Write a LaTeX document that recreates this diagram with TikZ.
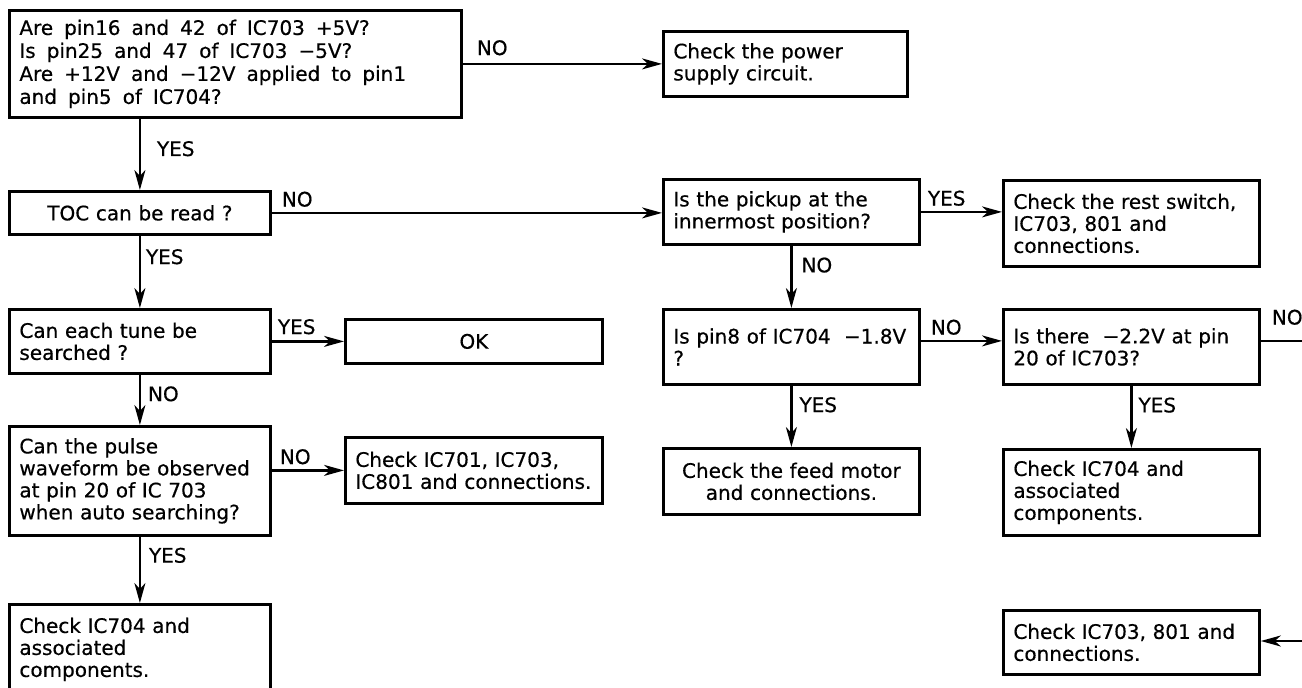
\documentclass[tikz,border=0pt]{standalone}
\usepackage{fontspec}
\setmainfont{DejaVu Sans}
\newfontfamily\chartfont[FakeBold=0.5]{DejaVu Sans}
\usetikzlibrary{arrows.meta}
\newcommand\widespaces{\spaceskip=0.55em plus 0.1em\relax}
\begin{document}
\begin{tikzpicture}[x=1pt, y=-1pt,
	every node/.style={font=\chartfont\fontsize{20}{22}\selectfont},
	box/.style={draw, line width=2.8pt, anchor=north west, inner xsep=10pt, inner ysep=0pt, align=left},
	lbl/.style={inner sep=0pt},
	>={Stealth[length=20pt, width=11pt, inset=6pt]}]
			\clip (0,0) rectangle (1302,688);
			
			% Left column
			\node[box, text width=432pt, minimum height=107pt, font=\chartfont\fontsize{20}{23}\selectfont] (volt) at (8,9) {\widespaces Are pin16 and 42 of IC703 +5V?\\Is pin25 and 47 of IC703 −5V?\\Are +12V and −12V applied to pin1\\and pin5 of IC704?};
			\node[box, text width=241pt, minimum height=43pt, align=center] (toc) at (8,190) {TOC can be read ?};
			\node[box, text width=241pt, minimum height=64pt] (tune) at (8,308) {Can each tune be\\searched ?};
			\node[box, text width=241pt, minimum height=109pt] (pulse) at (8,425) {Can the pulse\\waveform be observed\\at pin 20 of IC 703\\when auto searching?};
			\node[box, text width=241pt, minimum height=90pt] (chkic704a) at (8,603) {Check IC704 and\\associated\\components.};
			
			% Middle column
			\node[box, text width=237pt, minimum height=44pt, align=center] (ok) at (344,318) {OK};
			\node[box, text width=237pt, minimum height=66pt] (chkic701) at (344,436) {Check IC701, IC703,\\IC801 and connections.};
			\node[box, text width=224pt, minimum height=65pt] (supply) at (662,30) {Check the power\\supply circuit.};
			\node[box, text width=236pt, minimum height=65pt] (pickup) at (662,178) {Is the pickup at the\\innermost position?};
			\node[box, text width=236pt, minimum height=75pt] (pineight) at (662,308) {Is pin8 of IC704 \ −1.8V\\?};
			\node[box, text width=236pt, minimum height=66pt, align=center] (feed) at (662,447) {Check the feed motor\\and connections.};
			
			% Right column
			\node[box, text width=236pt, minimum height=86pt] (rest) at (1002,179) {Check the rest switch,\\IC703, 801 and\\connections.};
			\node[box, text width=236pt, minimum height=75pt] (pintwenty) at (1002,308) {Is there \ −2.2V at pin\\20 of IC703?};
			\node[box, text width=236pt, minimum height=86pt] (chkic704b) at (1002,448) {Check IC704 and\\associated\\components.};
			\node[box, text width=236pt, minimum height=64pt] (chkic703) at (1002,609) {Check IC703, 801 and\\connections.};
			\coordinate (edge) at (1302,0);
			\coordinate (fromright) at (1302,641);
			
			% Connectors
			\begin{scope}[line width=2.2pt]
			\draw[->] (volt.east) -- (supply.west) node[lbl, pos=0, anchor=south west, xshift=13pt, yshift=7.5pt] {NO};
			\draw[->] (volt.south -| toc.north) -- (toc.north) node[lbl, pos=0.42, anchor=west, xshift=16pt] {YES};
			\draw[->] (toc.east) -- (pickup.west |- toc.east) node[lbl, pos=0, anchor=south west, xshift=9pt, yshift=5pt] {NO};
			\draw[->] (pickup.east) -- (rest.west |- pickup.east) node[lbl, pos=0, anchor=south west, xshift=6pt, yshift=5pt] {YES};
			\draw[->] (toc.south) -- (tune.north) node[lbl, pos=0.29, anchor=west, xshift=5pt] {YES};
			\draw[->] (tune.east) -- (ok.west |- tune.east) node[lbl, pos=0, anchor=south west, xshift=5pt, yshift=6pt] {YES};
			\draw[->] (tune.south) -- (pulse.north) node[lbl, pos=0.38, anchor=west, xshift=7pt] {NO};
			\draw[->] (pulse.east |- chkic701.west) -- (chkic701.west) node[lbl, pos=0, anchor=south west, xshift=7pt, yshift=5pt] {NO};
			\draw[->] (pulse.south) -- (chkic704a.north) node[lbl, pos=0.28, anchor=west, xshift=8pt] {YES};
			\draw[->] (pickup.south) -- (pineight.north) node[lbl, pos=0.31, anchor=west, xshift=9pt] {NO};
			\draw[->] ([yshift=6pt]pineight.east) -- ([yshift=6pt]pintwenty.west) node[lbl, pos=0, anchor=south west, xshift=9pt, yshift=5pt] {NO};
			\draw[->] (pineight.south) -- (feed.north) node[lbl, pos=0.31, anchor=west, xshift=7pt] {YES};
			\draw[->] (pintwenty.south) -- (chkic704b.north) node[lbl, pos=0.31, anchor=west, xshift=6pt] {YES};
			\draw ([yshift=6pt]pintwenty.east) -- ([yshift=6pt]pintwenty.east -| edge) node[lbl, pos=0, anchor=south west, xshift=10pt, yshift=15pt] {NO};
			\draw[->] (fromright) -- (chkic703.east |- fromright);
			\end{scope}
\end{tikzpicture}
\end{document}
